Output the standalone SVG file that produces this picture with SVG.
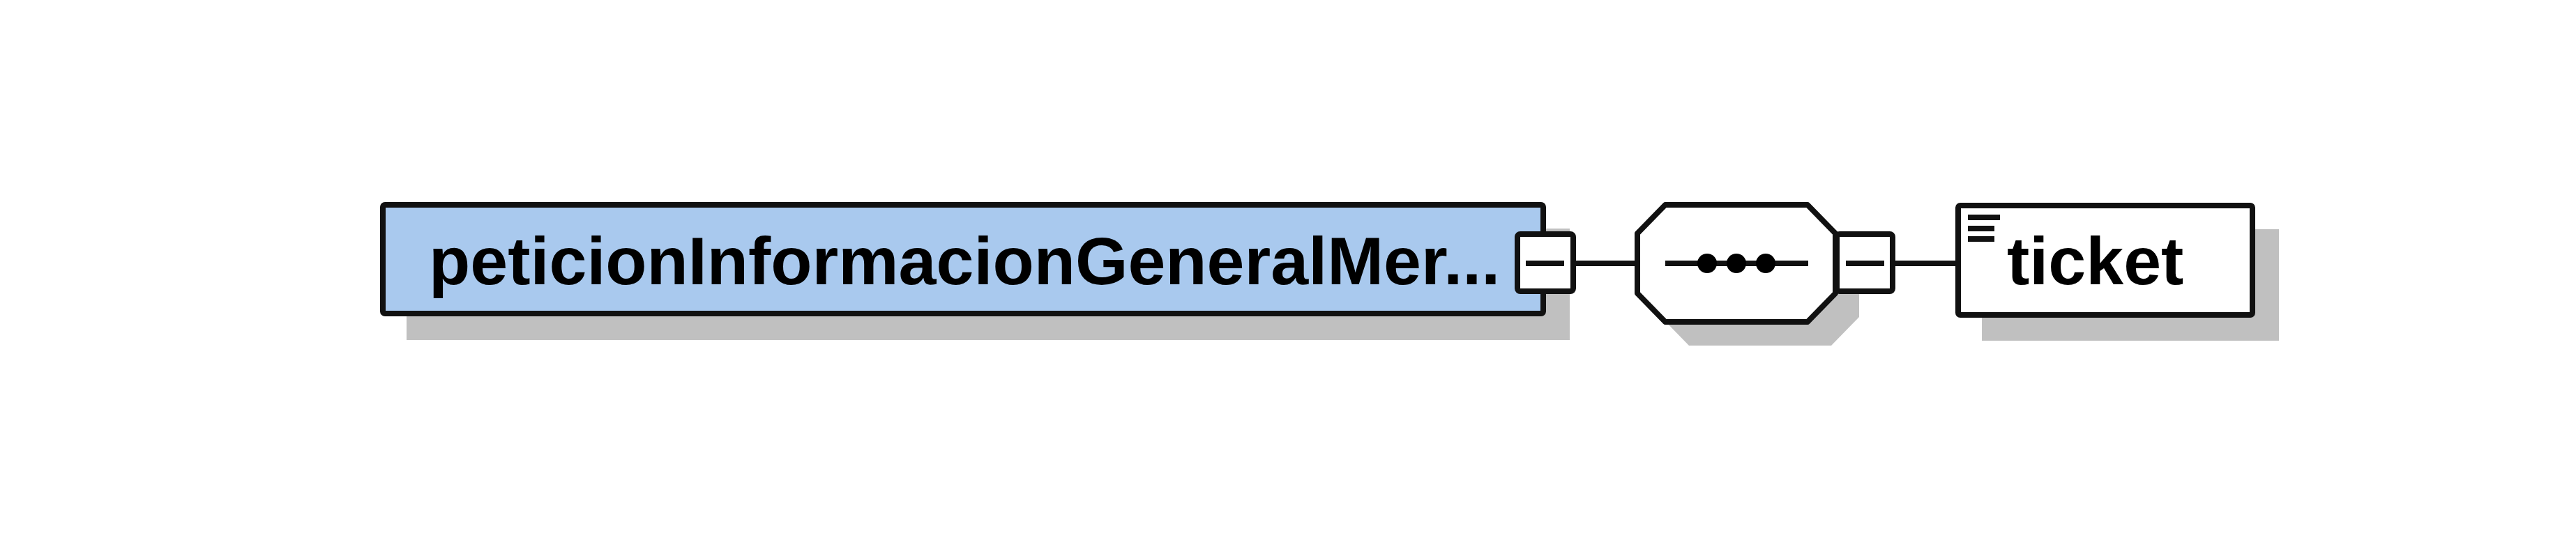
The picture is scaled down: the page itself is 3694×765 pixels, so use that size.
<svg xmlns="http://www.w3.org/2000/svg" width="3694" height="765" viewBox="0 0 3694 765">
<style>
.shadow{fill:#c0c0c0;stroke:none}
.box{stroke:#111;stroke-width:8;stroke-linejoin:round}
.line{stroke:#111;stroke-width:8;fill:none}
.lbl{font-family:"Liberation Sans",Arial,sans-serif;font-weight:bold;font-size:97px;fill:#000}
</style>
<rect width="3694" height="765" fill="#fff"/>
<g id="shadows">
<rect class="shadow" x="583" y="328" width="1668" height="160"/>
<polygon class="shadow" points="2422,328 2626,328 2666,369 2666,455 2626,496 2422,496 2382,455 2382,369"/>
<rect class="shadow" x="2842" y="329" width="426" height="160"/>
</g>
<g id="connectors">
<line class="line" x1="2260" y1="378" x2="2348" y2="378"/>
<line class="line" x1="2718" y1="378" x2="2808" y2="378"/>
</g>
<g id="node-peticion">
<rect class="box" x="549" y="294" width="1664" height="156" rx="3" fill="#a9c9ee"/>
<text class="lbl" x="615" y="408">peticionInformacionGeneralMer...</text>
<rect class="box" x="2176" y="336" width="80" height="82" rx="4" fill="#fff"/>
<line class="line" x1="2188" y1="378" x2="2243" y2="378"/>
</g>
<g id="node-sequence">
<polygon class="box" points="2388,294 2592,294 2632,335 2632,421 2592,462 2388,462 2348,421 2348,335" fill="#fff"/>
<line class="line" x1="2388" y1="378" x2="2593" y2="378"/>
<circle cx="2448" cy="378" r="14" fill="#000"/>
<circle cx="2490" cy="378" r="14" fill="#000"/>
<circle cx="2532" cy="378" r="14" fill="#000"/>
<rect class="box" x="2634" y="336" width="80" height="82" rx="4" fill="#fff"/>
<line class="line" x1="2647" y1="378" x2="2702" y2="378"/>
</g>
<g id="node-ticket">
<rect class="box" x="2808" y="295" width="422" height="157" rx="3" fill="#fff"/>
<line class="line" x1="2822" y1="312" x2="2868" y2="312" stroke-width="7"/>
<line class="line" x1="2822" y1="328" x2="2860" y2="328" stroke-width="7"/>
<line class="line" x1="2822" y1="343" x2="2860" y2="343" stroke-width="7"/>
<text class="lbl" x="2878" y="408">ticket</text>
</g>
</svg>
